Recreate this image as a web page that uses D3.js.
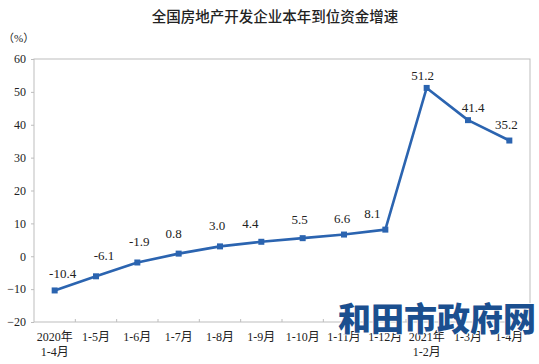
<!DOCTYPE html>
<meta charset="utf-8">
<style>
body { margin: 0; background: #fff; }
svg text { font-family: "Liberation Serif", "Noto Sans CJK SC", serif; fill: #222; }
.title { font-family: "Noto Sans CJK SC", sans-serif; font-size: 14.5px; font-weight: 500; }
.axis path, .axis line { stroke: #bdbdbd; }
.axis text { font-size: 12px; }
.lbl { font-size: 13px; }
.mark { font-family: "Noto Sans CJK SC", serif; font-weight: 900; font-size: 33px; fill: #1b4f8f; stroke: #fff; stroke-width: 1.5px; paint-order: stroke; }
</style>
<svg width="539" height="364"></svg>
<script src="https://d3js.org/d3.v7.min.js"></script>
<script>

var categories = ["2020年|1-4月", "1-5月", "1-6月", "1-7月", "1-8月", "1-9月",
                  "1-10月", "1-11月", "1-12月", "2021年|1-2月", "1-3月", "1-4月"];
var growth = [-10.4, -6.1, -1.9, 0.8, 3.0, 4.4, 5.5, 6.6, 8.1, 51.2, 41.4, 35.2];
var yTicks = [-20, -10, 0, 10, 20, 30, 40, 50, 60];

// small label nudges (layout only)
var nudgeX = [8, 8, 2, -5, -3, -11, -3, -2, -13, -4, 5, -3];
var nudgeY = [0, -4, -4, -4, -4, -2, -2, 0, 0, 4, 4, 0];

var svg = d3.select("svg");
var plotL = 34, plotR = 530, plotT = 59, plotB = 322;

var x = d3.scaleBand().domain(d3.range(categories.length)).range([plotL, plotR]);
var y = d3.scaleLinear().domain([-20, 60]).range([plotB, plotT]);

svg.append("text").attr("class", "title")
    .attr("x", 275).attr("y", 22).attr("text-anchor", "middle")
    .text("全国房地产开发企业本年到位资金增速");

svg.append("text").attr("x", 3).attr("y", 42)
    .style("font-size", "11px").text("（%）");

// frame
svg.append("rect")
    .attr("x", plotL).attr("y", plotT)
    .attr("width", plotR - plotL).attr("height", plotB - plotT)
    .attr("fill", "none").attr("stroke", "#bdbdbd");

var yAxis = svg.append("g").attr("class", "axis")
    .attr("transform", "translate(" + plotL + ",0)")
    .call(d3.axisLeft(y).tickValues(yTicks).tickSize(3).tickPadding(5));
yAxis.select(".domain").remove();

// ticks between categories, pointing up
svg.append("g").selectAll("line")
    .data(d3.range(1, categories.length))
    .join("line")
    .attr("x1", function(i) { return x(i); })
    .attr("x2", function(i) { return x(i); })
    .attr("y1", plotB).attr("y2", plotB - 3)
    .attr("stroke", "#bdbdbd");

var cx = function(d, i) { return x(i) + x.bandwidth() / 2; };

var catText = svg.append("g").selectAll("text")
    .data(categories)
    .join("text")
    .attr("text-anchor", "middle")
    .style("font-size", "12px")
    .attr("x", cx)
    .attr("y", 341);
catText.each(function(d) {
  var parts = d.split("|");
  var t = d3.select(this);
  parts.forEach(function(p, k) {
    t.append("tspan")
        .attr("x", t.attr("x"))
        .attr("dy", k === 0 ? 0 : 15)
        .text(p);
  });
});

svg.append("path")
    .datum(growth)
    .attr("fill", "none")
    .attr("stroke", "#2b64b0")
    .attr("stroke-width", 2.6)
    .attr("stroke-linejoin", "round")
    .attr("d", d3.line().x(cx).y(function(d) { return y(d); }));

svg.append("g").selectAll("rect")
    .data(growth)
    .join("rect")
    .attr("x", function(d, i) { return cx(d, i) - 3; })
    .attr("y", function(d) { return y(d) - 3; })
    .attr("width", 6).attr("height", 6)
    .attr("fill", "#2b64b0");

svg.append("g").selectAll("text")
    .data(growth)
    .join("text")
    .attr("class", "lbl")
    .attr("text-anchor", "middle")
    .attr("x", function(d, i) { return cx(d, i) + nudgeX[i]; })
    .attr("y", function(d, i) { return y(d) - 12 + nudgeY[i]; })
    .text(function(d) { return d.toFixed(1); });

svg.append("text").attr("class", "mark")
    .attr("x", 338).attr("y", 331)
    .text("和田市政府网");

</script>
